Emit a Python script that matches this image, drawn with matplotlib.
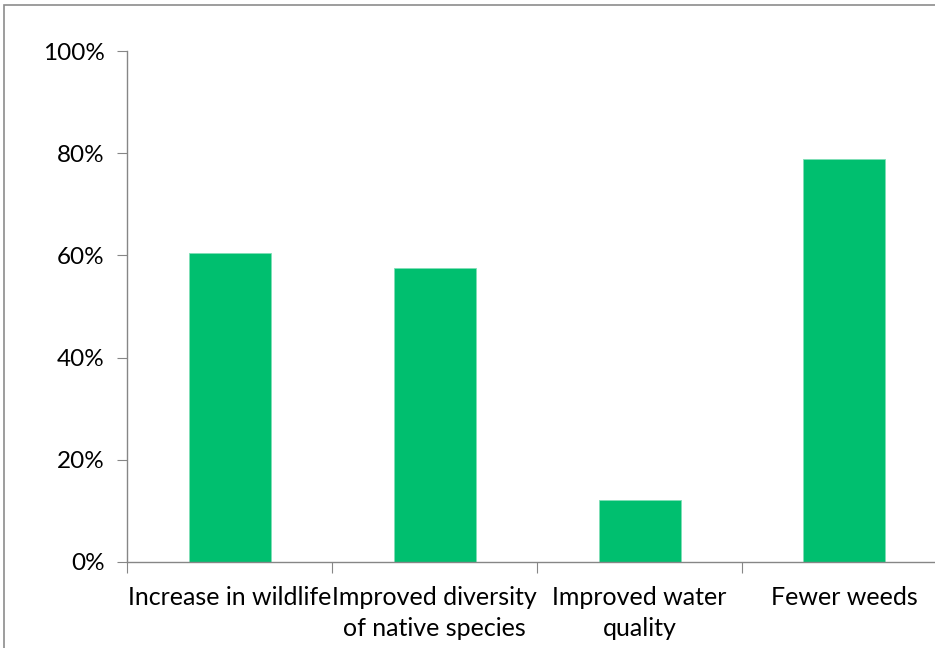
import matplotlib.pyplot as plt
from matplotlib.patches import Rectangle
from matplotlib.ticker import FixedLocator, FuncFormatter

categories = ['Increase in wildlife', 'Improved diversity\nof native species',
              'Improved water\nquality', 'Fewer weeds']
values = [0.605, 0.575, 0.121, 0.788]
yticks = [0.0, 0.2, 0.4, 0.6, 0.8, 1.0]

plt.rcParams['font.family'] = ['Lato', 'DejaVu Sans']

W, H = 935, 648
fig = plt.figure(figsize=(W / 100, H / 100), dpi=100)

# outer chart border (cropped on right and bottom in the original)
fig.patches.append(Rectangle((4 / W, -0.1), 2.0, 1 - 5 / H + 0.1, transform=fig.transFigure,
                             fill=False, edgecolor='#8c8c8c', linewidth=1.2))

left, right, top, bottom = 127, 947, 51, 562
ax = fig.add_axes([left / W, 1 - bottom / H, (right - left) / W, (bottom - top) / H])

x = range(len(categories))
ax.bar(x, values, width=0.4, color='#00BF6F', edgecolor='#7fdfb7', linewidth=0.6, zorder=2)

ax.set_xlim(-0.5, len(categories) - 0.5)
ax.set_ylim(0, 1)
ax.set_yticks(yticks)
ax.yaxis.set_major_formatter(FuncFormatter(lambda v, p: f'{v * 100:.0f}%'))

ax.xaxis.set_major_locator(FixedLocator([i - 0.5 for i in range(len(categories) + 1)]))
ax.xaxis.set_major_formatter(FuncFormatter(lambda v, p: ''))
ax.xaxis.set_minor_locator(FixedLocator(list(x)))
ax.set_xticklabels(categories, minor=True, linespacing=1.45)

for s in ['top', 'right']:
    ax.spines[s].set_visible(False)
for s in ['left', 'bottom']:
    ax.spines[s].set_color('#868686')
    ax.spines[s].set_linewidth(1.0)

ax.tick_params(axis='y', length=7, color='#868686', labelsize=17.5, pad=9)
ax.tick_params(axis='x', which='major', length=8, color='#868686')
ax.tick_params(axis='x', which='minor', length=0, labelsize=18, pad=17)

fig.savefig('out.png', dpi=100)
